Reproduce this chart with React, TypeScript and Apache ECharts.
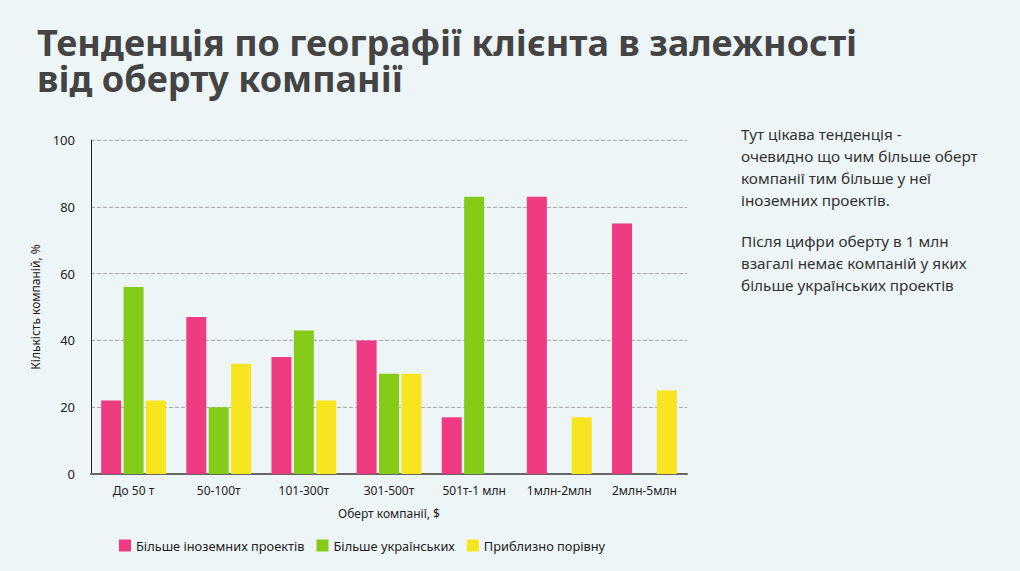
import React, { useEffect, useRef } from "react";
import * as echarts from "echarts";

const categories = ["До 50 т", "50-100т", "101-300т", "301-500т", "501т-1 млн", "1млн-2млн", "2млн-5млн"];
const foreignValues = [22, 47, 35, 40, 17, 83, 75];
const ukrainianValues = [56, 20, 43, 30, 83, 0, 0];
const equalValues = [22, 33, 22, 30, 0, 17, 25];
const seriesNames = ["Більше іноземних проектів", "Більше українських", "Приблизно порівну"];
const titleLines = ["Тенденція по географії клієнта в залежності", "від оберту компанії"];
const noteParagraph1 = ["Тут цікава тенденція -", "очевидно що чим більше оберт", "компанії тим більше у неї", "іноземних проектів."];
const noteParagraph2 = ["Після цифри оберту в 1 млн", "взагалі немає компаній у яких", "більше українських проектів"];

const FONT = "'Noto Sans', sans-serif";
const COLORS = ["#EE3B82", "#84CC18", "#F7E61F"];

export default function App() {
  const ref = useRef<HTMLDivElement>(null);
  useEffect(() => {
    document.body.style.margin = "0";
    const chart = echarts.init(ref.current!, null, { renderer: "svg" });
    const mk = (name: string, data: number[], i: number) => ({
      name,
      type: "bar",
      data: data.map((v) => (v === 0 ? null : v)),
      barWidth: 20,
      barGap: "12%",
      itemStyle: { color: COLORS[i] },
    });
    const note = (lines: string[], top: number) => ({
      type: "text",
      left: 741,
      top,
      style: { text: lines.join("\n"), font: `15.3px ${FONT}`, fill: "#333333", lineHeight: 22 },
    });
    chart.setOption({
      animation: false,
      backgroundColor: "#EEF5F7",
      textStyle: { fontFamily: FONT },
      graphic: [
        ...titleLines.map((t, i) => ({
          type: "text",
          left: 37,
          top: 24 + i * 36,
          style: { text: t, font: `bold 36px ${FONT}`, fill: "#444444", lineHeight: 36 },
        })),
        note(noteParagraph1, 123),
        note(noteParagraph2, 230),
      ],
      legend: {
        left: 114,
        top: 534,
        itemWidth: 12,
        itemHeight: 12,
        itemGap: 12,
        icon: "rect",
        textStyle: { fontFamily: FONT, fontSize: 12.8, color: "#222" },
        data: seriesNames,
      },
      grid: { left: 91, right: 333, top: 140, bottom: 97 },
      xAxis: {
        type: "category",
        data: categories,
        name: "Оберт компанії, $",
        nameLocation: "middle",
        nameGap: 33,
        nameTextStyle: { fontFamily: FONT, fontSize: 12, color: "#222" },
        axisLine: { lineStyle: { color: "#666", width: 2 } },
        axisTick: { show: false },
        axisLabel: { fontFamily: FONT, fontSize: 12, color: "#222", margin: 10 },
      },
      yAxis: {
        type: "value",
        min: 0,
        max: 100,
        interval: 20,
        name: "Кількість компаній, %",
        nameLocation: "middle",
        nameGap: 48,
        nameTextStyle: { fontFamily: FONT, fontSize: 12, color: "#222" },
        axisLine: { show: true, lineStyle: { color: "#222", width: 1 } },
        axisTick: { show: false },
        axisLabel: { fontFamily: FONT, fontSize: 13, color: "#222", margin: 16 },
        splitLine: { lineStyle: { type: "dashed", color: "#AAAAAA" } },
      },
      series: [mk(seriesNames[0], foreignValues, 0), mk(seriesNames[1], ukrainianValues, 1), mk(seriesNames[2], equalValues, 2)],
    });
    return () => chart.dispose();
  }, []);
  return <div ref={ref} style={{ width: 1020, height: 571 }} />;
}
